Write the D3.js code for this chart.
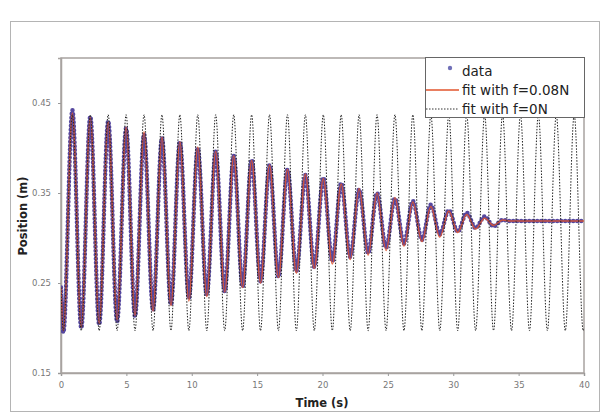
<!DOCTYPE html>
<html>
<head>
<meta charset="utf-8">
<script src="https://cdn.jsdelivr.net/npm/d3@7"></script>
<style>
  body { margin: 0; background: #fff; }
  svg { display: block; }
</style>
</head>
<body>
<div id="app"></div>
<script>
// values (seconds, metres)
const startTime = 0;
const startValue = 0.245;
const peakTimes = [0.87, 2.24, 3.61, 4.98, 6.35, 7.72, 9.09, 10.46, 11.83, 13.21, 14.58, 15.95, 17.32,
    18.69, 20.06, 21.43, 22.80, 24.17, 25.54, 26.91, 28.29, 29.66, 31.03, 32.40, 33.77, 35.14, 36.51, 37.88, 39.25];
const troughTimes = [0.18, 1.55, 2.92, 4.29, 5.66, 7.04, 8.41, 9.78, 11.15, 12.52, 13.89, 15.26, 16.63, 18.00,
    19.37, 20.75, 22.12, 23.49, 24.86, 26.23, 27.60, 28.97, 30.34, 31.71, 33.08, 34.46, 35.83, 37.20, 38.57, 39.94];

// measured data: extremes of each swing, then at rest
const dataPeaks = [0.442, 0.435, 0.430, 0.422, 0.415, 0.411, 0.407, 0.400, 0.396, 0.391, 0.387, 0.381, 0.376,
    0.370, 0.367, 0.361, 0.354, 0.350, 0.344, 0.341, 0.337, 0.331, 0.328, 0.324, 0.320];
const dataTroughs = [0.195, 0.200, 0.204, 0.207, 0.213, 0.220, 0.226, 0.233, 0.237, 0.241, 0.246, 0.252, 0.257,
    0.263, 0.268, 0.274, 0.279, 0.283, 0.289, 0.294, 0.298, 0.304, 0.307, 0.311, 0.313];

// fit with f=0.08N
const fitPeaks = [0.439, 0.434, 0.429, 0.423, 0.418, 0.412, 0.407, 0.401, 0.396, 0.391, 0.386, 0.381, 0.376,
    0.371, 0.366, 0.360, 0.355, 0.350, 0.345, 0.340, 0.335, 0.330, 0.326, 0.322, 0.320];
const fitTroughs = [0.197, 0.201, 0.205, 0.209, 0.214, 0.219, 0.225, 0.230, 0.235, 0.240, 0.245, 0.250, 0.256,
    0.261, 0.266, 0.271, 0.276, 0.281, 0.286, 0.291, 0.296, 0.301, 0.306, 0.310, 0.314];

const restTimes = [34.3, 40];
const restValue = 0.319;

// fit with f=0N (no damping)
const freePeak = 0.437;
const freeTrough = 0.197;
const freeEnd = [40, 0.199];

const xTicks = [0, 5, 10, 15, 20, 25, 30, 35, 40];
const yTicks = [0.15, 0.25, 0.35, 0.45];
const legendLabels = ["data", "fit with f=0.08N", "fit with f=0N"];

function buildSeries(peaks, troughs, tail) {
    let pts = [[startTime, startValue]];
    peaks.forEach((v, i) => pts.push([peakTimes[i], v]));
    troughs.forEach((v, i) => pts.push([troughTimes[i], v]));
    pts = pts.concat(tail);
    return pts.sort((a, b) => a[0] - b[0]);
}

let dataSeries = buildSeries(dataPeaks, dataTroughs, restTimes.map(t => [t, restValue]));
let fitSeries = buildSeries(fitPeaks, fitTroughs, restTimes.map(t => [t, restValue]));
let freeSeries = buildSeries(peakTimes.map(() => freePeak), troughTimes.map(() => freeTrough), [freeEnd]);

const width = 607, height = 415;
const m = {left: 61, top: 58, right: 584, bottom: 373};

let svg = d3.select('#app').append('svg').attr('width', width).attr('height', height);

// outer chart frame
svg.append('rect')
    .attr('x', 10.5).attr('y', 21.5).attr('width', 589).attr('height', 390)
    .attr('fill', '#fff').attr('stroke', '#b4b4b4').attr('stroke-width', 1);

let x = d3.scaleLinear().domain([0, 40]).range([m.left, m.right]);
let y = d3.scaleLinear().domain([0.15, 0.5]).range([m.bottom, m.top]);

svg.append('defs').append('clipPath').attr('id', 'clip')
    .append('rect')
    .attr('x', m.left).attr('y', m.top)
    .attr('width', m.right - m.left).attr('height', m.bottom - m.top);

// plot area border
svg.append('rect')
    .attr('x', m.left).attr('y', m.top)
    .attr('width', m.right - m.left).attr('height', m.bottom - m.top)
    .attr('fill', 'none').attr('stroke', '#a8a3a0').attr('stroke-width', 1.5);

let xAxis = svg.append('g')
    .attr('transform', `translate(0,${m.bottom})`)
    .call(d3.axisBottom(x).tickValues(xTicks).tickSize(3).tickPadding(6).tickFormat(d3.format('d')));
let yAxis = svg.append('g')
    .attr('transform', `translate(${m.left},0)`)
    .call(d3.axisLeft(y).tickValues(yTicks).tickSize(3).tickPadding(7).tickFormat(d3.format('.2f')));

[xAxis, yAxis].forEach(ax => {
    ax.select('.domain').attr('stroke', '#a8a3a0').attr('stroke-width', 1.5);
    ax.selectAll('.tick line').attr('stroke', '#999');
    ax.selectAll('.tick text')
        .attr('fill', '#777')
        .style('font-family', 'DejaVu Sans')
        .style('font-size', '8.5px');
});

svg.append('text')
    .attr('x', 322).attr('y', 407)
    .attr('text-anchor', 'middle')
    .style('font-family', 'DejaVu Sans').style('font-weight', 'bold').style('font-size', '11.5px')
    .attr('fill', '#222')
    .text('Time (s)');

svg.append('text')
    .attr('transform', 'translate(27,216) rotate(-90)')
    .attr('text-anchor', 'middle')
    .style('font-family', 'DejaVu Sans').style('font-weight', 'bold').style('font-size', '11.5px')
    .attr('fill', '#222')
    .text('Position (m)');

let line = d3.line()
    .x(d => x(d[0]))
    .y(d => y(d[1]))
    .curve(d3.curveMonotoneX);

let plot = svg.append('g').attr('clip-path', 'url(#clip)');

// data: drawn as round dots along the measured trace
plot.append('path')
    .attr('d', line(dataSeries))
    .attr('fill', 'none')
    .attr('stroke', '#55479e')
    .attr('stroke-width', 4.5)
    .attr('stroke-linecap', 'round')
    .attr('stroke-dasharray', '0 4');

plot.append('path')
    .attr('d', line(fitSeries))
    .attr('fill', 'none')
    .attr('stroke', '#e2552d')
    .attr('stroke-width', 1.5)
    .attr('stroke-opacity', 0.85);

plot.append('path')
    .attr('d', line(freeSeries))
    .attr('fill', 'none')
    .attr('stroke', '#222')
    .attr('stroke-width', 1)
    .attr('stroke-dasharray', '1.5 1.5');

// legend
let legend = svg.append('g');
legend.append('rect')
    .attr('x', 425.5).attr('y', 57.5).attr('width', 159).attr('height', 60)
    .attr('fill', '#fff').attr('stroke', '#666').attr('stroke-width', 1);

const rowY = [71, 90, 109];
legend.append('circle').attr('cx', 450).attr('cy', rowY[0] - 3).attr('r', 2.2).attr('fill', '#7070b8');
legend.append('line')
    .attr('x1', 426).attr('x2', 459).attr('y1', rowY[1]).attr('y2', rowY[1])
    .attr('stroke', '#e2552d').attr('stroke-width', 1.5);
legend.append('line')
    .attr('x1', 426).attr('x2', 459).attr('y1', rowY[2]).attr('y2', rowY[2])
    .attr('stroke', '#333').attr('stroke-width', 1).attr('stroke-dasharray', '1.5 1.5');

legend.selectAll('text.lab')
    .data(legendLabels)
    .enter()
    .append('text')
    .attr('class', 'lab')
    .attr('x', 462)
    .attr('y', (d, i) => rowY[i] + 4.5)
    .style('font-family', 'DejaVu Sans').style('font-size', '13.5px')
    .attr('fill', '#222')
    .text(d => d);
</script>
</body>
</html>
